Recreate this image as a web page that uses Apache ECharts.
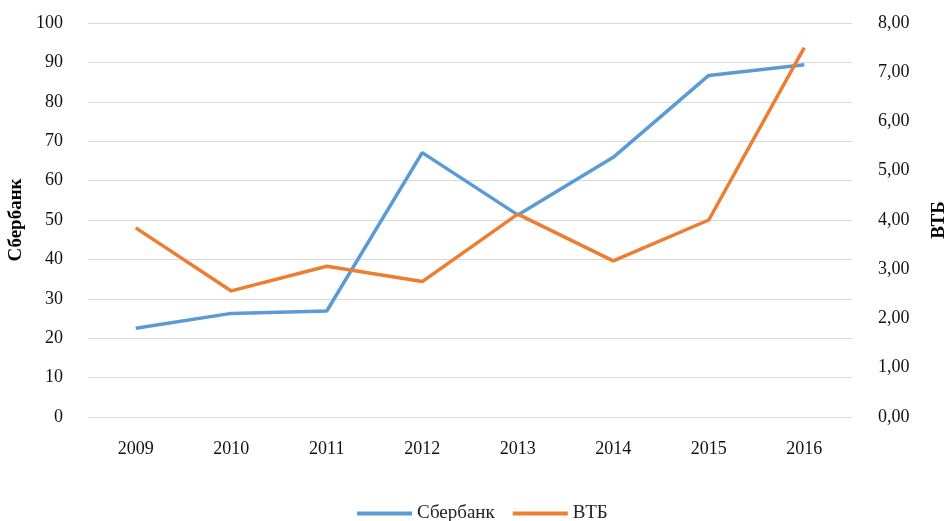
<!DOCTYPE html>
<html>
<head>
<meta charset="utf-8">
<script src="https://cdn.jsdelivr.net/npm/echarts@6/dist/echarts.min.js"></script>
<style>
  html, body { margin: 0; padding: 0; background: #fff; }
  #ec { width: 946px; height: 521px; }
</style>
</head>
<body>
<div id="ec"></div>
<script>
var years = ['2009', '2010', '2011', '2012', '2013', '2014', '2015', '2016']
var sber = [22.5, 26.3, 26.9, 67.1, 51.3, 65.9, 86.7, 89.4]
var vtb = [3.84, 2.56, 3.06, 2.75, 4.12, 3.17, 4.0, 7.5]

var font = 'Liberation Serif'
var myEchart = echarts.init(document.getElementById('ec'))
myEchart.setOption({
  animation: false,
  textStyle: { fontFamily: font },
  grid: { left: 88, right: 94, top: 23, bottom: 104, containLabel: false, outerBoundsMode: 'none' },
  legend: {
    top: 499,
    left: 352,
    itemWidth: 55,
    itemHeight: 4,
    itemGap: 18,
    icon: 'rect',
    textStyle: { fontFamily: font, fontSize: 19, color: '#222' },
    data: ['Сбербанк', 'ВТБ']
  },
  xAxis: {
    type: 'category',
    data: years,
    axisLine: { show: false },
    axisTick: { show: false },
    axisLabel: { fontFamily: font, fontSize: 18, color: '#111', margin: 23 }
  },
  yAxis: [
    {
      type: 'value',
      min: 0, max: 100, interval: 10,
      name: 'Сбербанк',
      nameLocation: 'middle',
      nameRotate: 90,
      nameGap: 56,
      nameTextStyle: { fontFamily: font, fontSize: 19, fontWeight: 'bold', color: '#000' },
      axisLabel: { fontFamily: font, fontSize: 18, color: '#111', margin: 25 },
      splitLine: { lineStyle: { color: '#d9d9d9', width: 1 } }
    },
    {
      type: 'value',
      min: 0, max: 8, interval: 1,
      name: 'ВТБ',
      nameLocation: 'middle',
      nameRotate: 90,
      nameGap: 78,
      nameTextStyle: { fontFamily: font, fontSize: 19, fontWeight: 'bold', color: '#000' },
      axisLabel: {
        fontFamily: font, fontSize: 18, color: '#111', margin: 26,
        formatter: function (v) { return v.toFixed(2).replace('.', ',') }
      },
      splitLine: { show: false }
    }
  ],
  series: [
    {
      name: 'Сбербанк',
      type: 'line',
      yAxisIndex: 0,
      data: sber,
      symbol: 'none',
      lineStyle: { color: '#5b9bd5', width: 3.5 },
      itemStyle: { color: '#5b9bd5' }
    },
    {
      name: 'ВТБ',
      type: 'line',
      yAxisIndex: 1,
      data: vtb,
      symbol: 'none',
      lineStyle: { color: '#ed7d31', width: 3.5 },
      itemStyle: { color: '#ed7d31' }
    }
  ]
})
</script>
</body>
</html>
